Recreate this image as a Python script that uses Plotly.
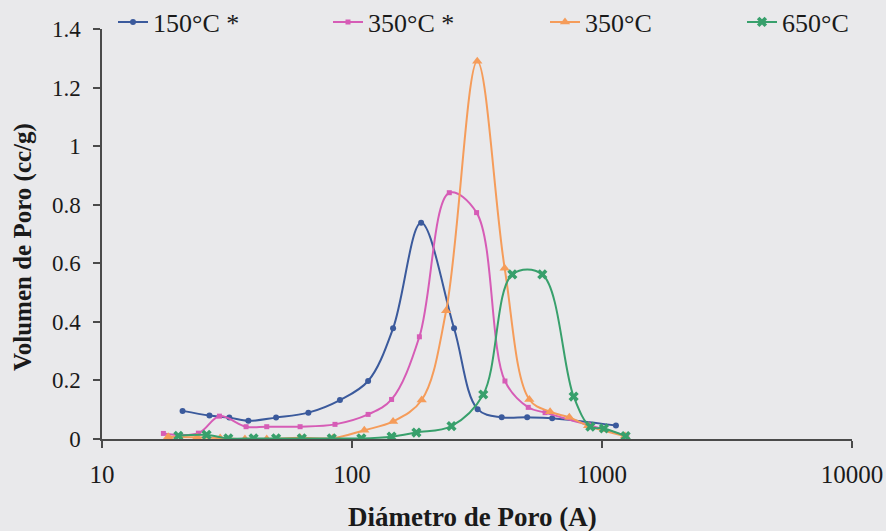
import plotly.graph_objects as go

# Pore size distributions (diameter in Angstrom, pore volume in cc/g)
d_150s = [21.0, 26.9, 32.3, 38.5, 49.7, 66.9, 89.5, 116, 146, 189, 256, 318, 397, 502, 632, 1137]
v_150s = [0.096, 0.080, 0.073, 0.062, 0.073, 0.090, 0.133, 0.198, 0.378, 0.738, 0.378, 0.102, 0.074, 0.074, 0.071, 0.046]

d_350s = [17.6, 24.3, 29.5, 37.7, 45.6, 62, 85.5, 116, 144, 186, 245, 315, 409, 507, 592, 882, 1256]
v_350s = [0.019, 0.020, 0.078, 0.042, 0.042, 0.042, 0.050, 0.084, 0.135, 0.349, 0.841, 0.773, 0.198, 0.108, 0.090, 0.048, 0.010]

d_350 = [18.4, 24.0, 29.7, 37.3, 45.6, 62, 84, 112, 146, 190, 238, 317, 408, 512, 620, 740, 880, 1236]
v_350 = [0.008, 0.006, 0.003, 0.0, 0.0, 0.004, 0.003, 0.030, 0.060, 0.133, 0.438, 1.290, 0.583, 0.135, 0.093, 0.074, 0.045, 0.010]

d_650 = [20.2, 26.2, 32.0, 40.4, 49.7, 63, 83, 109, 144, 181, 250, 335, 438, 577, 770, 898, 1018, 1243]
v_650 = [0.011, 0.014, 0.002, 0.002, 0.002, 0.002, 0.002, 0.002, 0.008, 0.022, 0.044, 0.152, 0.562, 0.562, 0.145, 0.042, 0.036, 0.010]

names = ["150°C *", "350°C *", "350°C", "650°C"]
x_ticks = [10, 100, 1000, 10000]
y_ticks = [0, 0.2, 0.4, 0.6, 0.8, 1, 1.2, 1.4]

FONT = "Liberation Serif"
BG = "#e9e9eb"
INK = "#1a1a1a"

series = [
    (d_150s, v_150s, "#3b5a9c", dict(symbol="circle", size=6)),
    (d_350s, v_350s, "#d65cb6", dict(symbol="square", size=5)),
    (d_350, v_350, "#f59c5a", dict(symbol="triangle-up", size=9)),
    (d_650, v_650, "#38a06c", dict(symbol="x", size=9)),
]

# each series gets its own legend so the four entries sit along the top edge
legend_ids = ["legend", "legend2", "legend3", "legend4"]
legend_text_x = [153, 368, 585, 782]

fig = go.Figure()
for (xs, ys, col, mk), name, lg in zip(series, names, legend_ids):
    fig.add_trace(go.Scatter(
        x=xs, y=ys, name=name, legend=lg, showlegend=True,
        mode="lines+markers",
        line=dict(color=col, width=2, shape="spline", smoothing=1.0),
        marker=dict(color=col, **mk),
    ))

L, R, T, B = 102, 852, 29, 439
W, H = 886, 531

def px_x(p):
    return (p - L) / (R - L)

def px_y(p):
    return (B - p) / (B - T)

legend_layout = {}
for lg, tx in zip(legend_ids, legend_text_x):
    legend_layout[lg] = dict(
        x=px_x(tx - 40), y=px_y(22), xanchor="left", yanchor="middle",
        orientation="h", bgcolor="rgba(0,0,0,0)", borderwidth=0,
        font=dict(family=FONT, size=26, color=INK),
        itemwidth=30, visible=True,
    )

fig.update_layout(
    width=W, height=H,
    showlegend=True,
    margin=dict(l=L, r=W - R, t=T, b=H - B, autoexpand=False),
    paper_bgcolor=BG, plot_bgcolor=BG,
    font=dict(family=FONT, color=INK),
    **legend_layout,
    xaxis=dict(
        type="log", range=[1, 4],
        tickvals=x_ticks, ticktext=[str(v) for v in x_ticks],
        showgrid=False, zeroline=False,
        showline=True, linecolor="#4a4a4a", linewidth=1.5,
        ticks="outside", ticklen=7, tickcolor="#4a4a4a", tickwidth=1.5,
        tickfont=dict(family=FONT, size=25, color=INK),
        ticklabelstandoff=5,
    ),
    yaxis=dict(
        range=[0, 1.4],
        tickvals=y_ticks, ticktext=["0", "0.2", "0.4", "0.6", "0.8", "1", "1.2", "1.4"],
        showgrid=False, zeroline=False,
        showline=True, linecolor="#4a4a4a", linewidth=1.5,
        ticks="outside", ticklen=7, tickcolor="#4a4a4a", tickwidth=1.5,
        tickfont=dict(family=FONT, size=23, color=INK),
        ticklabelstandoff=8,
    ),
    annotations=[
        dict(text="<b>Diámetro de Poro (A)</b>", xref="paper", yref="paper",
             x=px_x(472), y=px_y(517), xanchor="center", yanchor="middle",
             showarrow=False, font=dict(family=FONT, size=27, color=INK)),
        dict(text="<b>Volumen de Poro (cc/g)</b>", xref="paper", yref="paper",
             x=px_x(23), y=px_y(247), xanchor="center", yanchor="middle",
             textangle=-90, showarrow=False,
             font=dict(family=FONT, size=25, color=INK)),
    ],
)

fig.write_html("out.html")
